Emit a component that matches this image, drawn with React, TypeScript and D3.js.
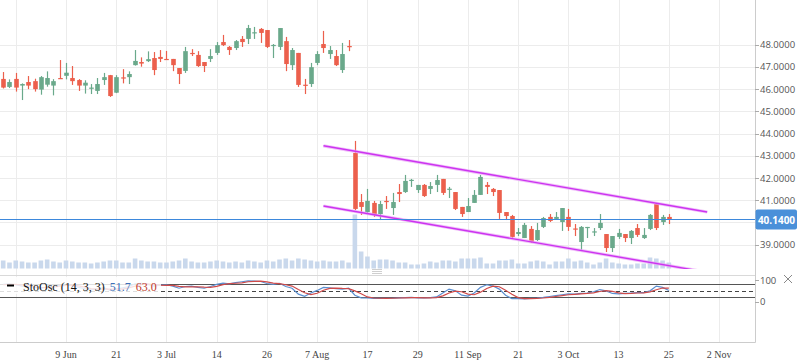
import React from "react";
import * as d3 from "d3";

// daily bars, index 0 = 25 May, index 106 = 25 Oct
const opens = [
  46.46, 46.1, 46.46, 46.16, 46.32, 46.36, 45.98, 46.2, 46.16, 46.5,
  46.6, 46.5, 46.41, 46.16, 46.05, 45.92, 46.41, 46.63, 45.84, 46.53,
  46.54, 47.08, 47.22, 47.26, 47.4, 47.45, 47.36, 47.36, 46.95, 46.82,
  47.63, 47.54, 47.22, 47.36, 47.63, 48.12, 47.9, 47.85, 48.26, 48.26,
  48.55, 48.71, 48.66, 47.98, 47.9, 48.16, 47.08, 47.63, 46.2, 46.23,
  47.18, 48.03, 47.58, 47.49, 46.86, 47.94, 43.13, 40.92, 40.47, 40.88,
  40.38, 40.97, 40.65, 41.37, 41.37, 41.9, 41.46, 41.69, 41.51, 41.69,
  41.96, 41.5, 41.37, 40.7, 40.47, 40.88, 41.24, 41.69, 41.51, 41.46,
  40.47, 40.29, 39.48, 39.3, 39.71, 39.21, 39.8, 40.25, 40.16, 40.02,
  40.25, 39.73, 39.12, 39.78, 39.57, 39.75, 39.48, 38.85, 39.35, 39.48,
  39.3, 39.75, 39.3, 39.71, 40.83, 40.02, 40.25,
];
const highs = [
  46.77, 46.44, 46.73, 46.26, 46.59, 46.47, 46.59, 46.8, 46.45, 47.31,
  47.18, 47.04, 46.45, 46.4, 46.23, 46.5, 46.73, 46.64, 46.63, 46.9,
  46.8, 47.76, 47.43, 47.7, 47.67, 47.76, 47.72, 47.36, 46.95, 47.9,
  47.8, 47.71, 47.22, 47.8, 48.12, 48.44, 47.94, 48.21, 48.39, 48.89,
  48.8, 48.75, 48.66, 48.03, 48.75, 48.35, 47.85, 47.63, 46.46, 47.18,
  47.71, 48.62, 47.94, 47.76, 48.08, 48.21, 43.67, 41.28, 41.51, 40.97,
  40.97, 41.19, 41.33, 41.73, 42.14, 41.96, 41.69, 41.73, 41.82, 42.14,
  41.96, 41.6, 41.37, 40.7, 41.1, 41.46, 42.14, 41.82, 41.55, 41.46,
  40.47, 40.34, 39.75, 39.98, 39.84, 39.98, 40.25, 40.38, 40.47, 40.65,
  40.61, 39.93, 39.84, 39.8, 39.75, 40.38, 39.48, 39.39, 39.71, 39.48,
  39.66, 39.93, 39.75, 40.38, 40.88, 40.34, 40.38,
];
const lows = [
  46.03, 46.05, 45.89, 45.51, 46.0, 45.89, 45.75, 46.11, 45.72, 46.47,
  46.44, 46.19, 45.92, 45.8, 45.78, 45.78, 46.19, 45.65, 45.82, 46.26,
  46.23, 47.06, 47.01, 47.22, 46.63, 47.22, 47.34, 46.81, 46.23, 46.73,
  47.49, 47.0, 46.77, 47.22, 47.54, 47.94, 47.54, 47.76, 47.9, 48.03,
  48.26, 48.08, 47.85, 47.4, 47.76, 46.81, 46.86, 46.1, 45.78, 46.1,
  47.08, 47.63, 47.36, 47.04, 46.73, 47.71, 40.56, 40.34, 40.38, 40.25,
  40.11, 40.61, 40.34, 40.92, 41.33, 41.6, 41.33, 41.15, 41.28, 41.37,
  41.24, 41.1, 40.56, 40.25, 40.47, 40.88, 41.24, 41.28, 41.19, 40.16,
  40.11, 39.26, 39.39, 39.3, 39.08, 39.17, 39.75, 40.02, 40.16, 39.62,
  39.62, 39.39, 38.72, 39.3, 39.39, 39.66, 38.67, 38.67, 39.26, 39.12,
  39.03, 39.35, 39.26, 39.66, 39.66, 39.89, 39.93,
];
const closes = [
  46.07, 46.32, 46.07, 46.23, 46.16, 46.0, 46.54, 46.5, 46.36, 46.47,
  46.74, 46.36, 46.16, 46.29, 46.07, 46.23, 46.54, 45.69, 46.54, 46.5,
  46.68, 47.27, 47.15, 47.35, 46.86, 47.36, 47.34, 47.08, 46.68, 47.71,
  47.6, 47.04, 47.04, 47.49, 47.98, 47.98, 47.76, 48.16, 48.12, 48.75,
  48.56, 48.53, 47.9, 47.99, 48.75, 47.13, 47.76, 46.19, 46.18, 46.99,
  47.58, 47.85, 47.76, 47.08, 47.58, 47.92, 40.61, 40.7, 40.97, 40.34,
  40.83, 40.94, 40.92, 41.28, 41.87, 41.92, 41.69, 41.19, 41.64, 41.91,
  41.33, 41.52, 40.61, 40.38, 40.74, 41.24, 42.05, 41.6, 41.37, 40.43,
  40.29, 39.35, 39.57, 39.89, 39.12, 39.66, 40.2, 40.07, 40.25, 40.65,
  39.8, 39.71, 39.8, 39.8, 39.6, 39.98, 38.85, 39.39, 39.53, 39.3,
  39.62, 39.44, 39.44, 40.34, 39.75, 40.25, 40.14,
];
// volume, millions
const volumes = [
  4, 3, 4, 3.5, 3, 3, 4, 4.5, 3.5, 3,
  4, 3.5, 3, 3, 2.5, 3, 3.5, 4, 4, 3,
  3, 5, 4, 3.5, 3.5, 3, 3, 3.5, 4, 5,
  3.5, 3, 3, 3.5, 4, 3.5, 3, 3.5, 3, 4,
  3.5, 3, 4, 3.5, 4.5, 5, 4, 5, 4.5, 4,
  3.5, 4, 3.5, 3.5, 4, 3, 27, 8.5, 6, 4,
  4.5, 4.5, 4, 3, 3, 2, 2, 2.5, 3.5, 3,
  4, 4, 3.5, 5, 5, 5, 5.5, 2.5, 2.5, 4,
  4, 4.5, 2.5, 2.5, 3.5, 4, 3.5, 2, 3.5, 3.5,
  5, 3.5, 4, 3, 2, 3, 5, 3, 2.5, 2,
  2, 2.5, 2.5, 5.5, 5, 4, 3,
];
const stochK = [
  80, 82, 78, 72, 70, 66, 62, 68, 72, 75,
  78, 74, 66, 60, 55, 58, 65, 52, 58, 64,
  70, 82, 84, 80, 72, 76, 78, 72, 62, 70,
  72, 66, 62, 70, 80, 86, 82, 88, 92, 96,
  95, 93, 84, 80, 85, 70, 62, 35, 25, 40,
  52, 66, 64, 60, 58, 62, 30, 18, 17, 15,
  15, 16, 16, 18, 19, 20, 18, 17, 19, 22,
  40, 58, 50, 30, 26, 40, 66, 78, 72, 58,
  30, 14, 14, 13, 15, 17, 20, 24, 28, 32,
  36, 35, 38, 40, 46, 56, 50, 38, 36, 38,
  40, 42, 42, 50, 72, 66, 51.7,
];
const stochD = [
  78, 80, 80, 77, 73, 69, 66, 65, 67, 72,
  75, 76, 73, 67, 60, 58, 59, 58, 58, 58,
  64, 72, 79, 82, 79, 76, 75, 75, 71, 68,
  68, 69, 67, 66, 71, 79, 83, 85, 87, 92,
  94, 95, 91, 86, 83, 78, 72, 56, 41, 33,
  39, 53, 61, 63, 61, 60, 50, 37, 22, 17,
  16, 15, 16, 17, 18, 19, 19, 18, 18, 19,
  27, 40, 49, 46, 35, 32, 44, 61, 72, 69,
  53, 34, 19, 14, 14, 15, 17, 20, 24, 28,
  32, 34, 36, 38, 41, 47, 51, 48, 41, 37,
  38, 40, 41, 45, 55, 63, 63,
];

const tickIndex = [2, 10, 18, 26, 34, 42, 50, 58, 66, 74, 82, 90, 98, 106, 114];
const tickLabels = ["", "9 Jun", "21", "3 Jul", "14", "26", "7 Aug", "17", "29", "11 Sep", "21", "3 Oct", "13", "25", "2 Nov"];
const priceTicks = [39, 40, 41, 42, 43, 44, 45, 46, 47, 48];
const stochTicks = [0, 100];
const stochLevels = [20, 50, 80];

// trend channel drawn on the chart: [bar index, price]
const channelUpper = [[51, 43.45], [112.1, 40.47]];
const channelLower = [[51, 40.74], [112.1, 37.76]];
const lastPrice = 40.14;

const GREEN = "#6aa98b";
const RED = "#ec5f4c";
const GRID = "#ececec";

export default function App() {
  const right = 755;
  const mainBottom = 269;
  const stochTop = 275.5;
  const bottom = 342.5;

  const x = d3.scaleLinear().domain([0, 114]).range([3.2, 719.1]);
  const y = d3.scaleLinear().domain([39, 48]).range([244.7, 44.7]);
  const yVol = d3.scaleLinear().domain([0, 27]).range([268.5, 214.5]);
  const yS = d3.scaleLinear().domain([0, 100]).range([301.7, 280]);
  const bw = 4.6;

  const lineS = d3
    .line<number>()
    .x((_, i) => x(i))
    .y((d) => yS(d));
  const chan = d3
    .line<number[]>()
    .x((d) => x(d[0]))
    .y((d) => y(d[1]));

  const py = Math.round(y(lastPrice)) + 0.5;
  // price labels hidden where the last-price badge sits
  const shownTicks = priceTicks.filter((p) => Math.abs(y(p) - py) > 12);

  return (
    <svg width={798} height={363} style={{ position: "absolute", left: 0, top: 0, background: "#fff" }}>
      <defs>
        <clipPath id="main">
          <rect x={0} y={0} width={right} height={mainBottom} />
        </clipPath>
      </defs>

      {/* grid */}
      {tickIndex.map((t) => (
        <line key={"vg" + t} x1={Math.round(x(t)) + 0.5} x2={Math.round(x(t)) + 0.5} y1={0} y2={bottom} stroke={GRID} />
      ))}
      {priceTicks.map((p) => (
        <line key={"hg" + p} x1={0} x2={right} y1={Math.round(y(p)) + 0.5} y2={Math.round(y(p)) + 0.5} stroke={GRID} />
      ))}

      {/* volume */}
      <g fill="#c9d8ec">
        {volumes.map((v, i) => (
          <rect key={"v" + i} x={x(i) - bw / 2} y={yVol(v)} width={bw} height={yVol(0) - yVol(v)} />
        ))}
      </g>

      {/* candles */}
      <g clipPath="url(#main)">
        {opens.map((o, i) => {
          const c = closes[i];
          const col = c >= o ? GREEN : RED;
          const cx = Math.round(x(i)) + 0.5;
          const top = y(Math.max(o, c));
          const h = Math.max(1.2, y(Math.min(o, c)) - top);
          return (
            <g key={"c" + i}>
              <line x1={cx} x2={cx} y1={y(highs[i])} y2={y(lows[i])} stroke={col} strokeWidth={1.2} />
              <rect x={cx - bw / 2} y={top} width={bw} height={h} fill={col} />
            </g>
          );
        })}

        {/* channel */}
        {[channelUpper, channelLower].map((c, k) => (
          <g key={"ch" + k}>
            <path d={chan(c) || ""} stroke="#eaa6f7" strokeWidth={3.2} fill="none" opacity={0.7} />
            <path d={chan(c) || ""} stroke="#cc33f0" strokeWidth={1.4} fill="none" />
          </g>
        ))}
      </g>

      {/* current price */}
      <line x1={0} x2={right} y1={py} y2={py} stroke="#3d88dc" strokeWidth={1.1} />

      {/* panel separator + resize handle */}
      <line x1={0} x2={right} y1={stochTop} y2={stochTop} stroke="#d9d9d9" />
      <g stroke="#cfcfcf">
        {[269.5, 271.5, 273.5].map((v) => (
          <line key={v} x1={372} x2={382} y1={v} y2={v} />
        ))}
      </g>

      {/* stochastic */}
      {stochLevels.map((l) => (
        <line
          key={"sl" + l}
          x1={0}
          x2={right}
          y1={Math.round(yS(l)) + 0.5}
          y2={Math.round(yS(l)) + 0.5}
          stroke={l === 50 ? "#444" : "#555"}
          strokeDasharray={l === 50 ? "4,3" : undefined}
        />
      ))}
      <path d={lineS(stochK) || ""} fill="none" stroke="#5b8fd0" strokeWidth={1.2} />
      <path d={lineS(stochD) || ""} fill="none" stroke="#cf4a4a" strokeWidth={1.2} />

      {/* legend */}
      <rect x={0} y={277} width={161} height={17} fill="#fff" opacity={0.82} />
      <line x1={7} x2={14} y1={285.5} y2={285.5} stroke="#000" strokeWidth={2} />
      <text x={23} y={290.5} fontFamily="Liberation Serif, serif" fontSize={12} fill="#111">
        StoOsc (14, 3, 3)
        <tspan dx={5} fill="#3d6fb8">{stochK[stochK.length - 1].toFixed(1)}</tspan>
        <tspan dx={5} fill="#c0392b">{stochD[stochD.length - 1].toFixed(1)}</tspan>
      </text>

      {/* axes borders */}
      <line x1={right + 0.5} x2={right + 0.5} y1={0} y2={bottom} stroke="#cccccc" />
      <line x1={0} x2={right + 0.5} y1={bottom} y2={bottom} stroke="#cccccc" />

      {/* price axis */}
      <g fontFamily="Open Sans, sans-serif" fontSize={9.5} fill="#555">
        {shownTicks.map((p) => (
          <g key={"pt" + p}>
            <line x1={right} x2={right + 4} y1={Math.round(y(p)) + 0.5} y2={Math.round(y(p)) + 0.5} stroke="#aaa" />
            <text x={right + 5} y={y(p)} dominantBaseline="central">
              {p.toFixed(4)}
            </text>
          </g>
        ))}
        {stochTicks.map((s) => (
          <g key={"st" + s}>
            <line x1={right} x2={right + 4} y1={Math.round(yS(s)) + 0.5} y2={Math.round(yS(s)) + 0.5} stroke="#aaa" />
            <text x={right + 5} y={yS(s)} dominantBaseline="central">
              {s}
            </text>
          </g>
        ))}
      </g>

      {/* last price label */}
      <rect x={right + 0.5} y={py - 10} width={41.5} height={20} rx={2} fill="#4a90d9" />
      <text
        x={right + 21.5}
        y={py}
        textAnchor="middle"
        dominantBaseline="central"
        fontFamily="Open Sans, sans-serif"
        fontWeight="bold"
        fontSize={10}
        fill="#fff"
      >
        {lastPrice.toFixed(4)}
      </text>

      {/* close icon */}
      <g stroke="#888" strokeWidth={1}>
        <line x1={784} x2={792} y1={275} y2={283} />
        <line x1={792} x2={784} y1={275} y2={283} />
      </g>

      {/* time axis */}
      <g fontFamily="Liberation Serif, serif" fontSize={10} fill="#444" textAnchor="middle">
        {tickIndex.map((t, k) =>
          tickLabels[k] ? (
            <text key={"xl" + t} x={x(t)} y={357.5}>
              {tickLabels[k]}
            </text>
          ) : null
        )}
      </g>
    </svg>
  );
}
